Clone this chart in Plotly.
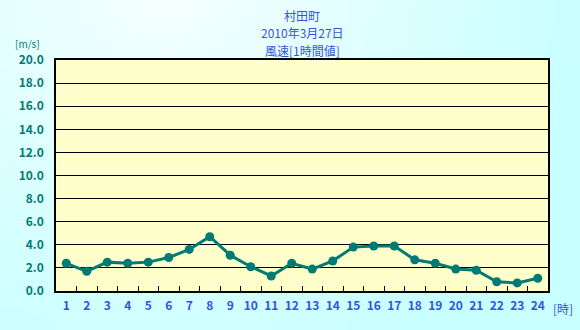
import base64
import math
import struct
import zlib

import plotly.graph_objects as go

hours = [str(h) for h in range(1, 25)]
wind = [2.4, 1.7, 2.5, 2.4, 2.5, 2.9, 3.6, 4.7, 3.1, 2.1, 1.3, 2.4,
        1.9, 2.6, 3.8, 3.9, 3.9, 2.7, 2.4, 1.9, 1.8, 0.8, 0.7, 1.1]
y_ticks = [i * 2.0 for i in range(11)]
y_ticktext = [f"{v:.1f}" for v in y_ticks]
title_lines = ["村田町", "2010年3月27日", "風速[1時間値]"]

FONT = "Noto Sans CJK JP"
TEAL = "#007b73"
BLUE = "#3355dd"

W, H = 580, 330
L, R, T, B = 56, 32, 60, 39


def gradient_png(w, h):
    rows = []
    for yy in range(h):
        row = bytearray([0])
        for xx in range(w):
            px, py = xx * 10, yy * 10
            d = math.hypot(px - 160, py + 30)
            t = min(1.0, d / 430.0)
            r = int(248 - t * (248 - 200))
            row += bytes([r, 255, 255])
        rows.append(bytes(row))
    raw = b"".join(rows)

    def chunk(tag, data):
        c = struct.pack(">I", len(data)) + tag + data
        return c + struct.pack(">I", zlib.crc32(tag + data) & 0xFFFFFFFF)

    png = b"\x89PNG\r\n\x1a\n"
    png += chunk(b"IHDR", struct.pack(">IIBBBBB", w, h, 8, 2, 0, 0, 0))
    png += chunk(b"IDAT", zlib.compress(raw, 9))
    png += chunk(b"IEND", b"")
    return "data:image/png;base64," + base64.b64encode(png).decode()


fig = go.Figure()
fig.add_trace(go.Scatter(
    x=hours, y=wind, mode="lines+markers",
    line=dict(color=TEAL, width=3),
    marker=dict(color=TEAL, size=9),
    hoverinfo="x+y", showlegend=False,
))

pw, ph = W - L - R, H - T - B
fig.add_layout_image(
    source=gradient_png(58, 33), xref="paper", yref="paper",
    x=-L / pw, y=1 + T / ph, sizex=W / pw, sizey=H / ph,
    sizing="stretch", xanchor="left", yanchor="top", layer="below",
)

fig.update_layout(
    width=W, height=H,
    margin=dict(l=L, r=R, t=T, b=B),
    paper_bgcolor="#d6fbfb",
    plot_bgcolor="#ffffcc",
    xaxis=dict(
        type="category", range=[-0.5, len(hours) - 0.5],
        tickson="boundaries", ticks="inside", ticklen=5,
        tickcolor="black", showgrid=False, showline=True, linecolor="black",
        linewidth=1.5, mirror=True, tickangle=0,
        tickfont=dict(family=FONT, size=12, color=BLUE, weight="bold"),
        ticklabelstandoff=3,
    ),
    yaxis=dict(
        range=[0, 20], tickvals=y_ticks, ticktext=y_ticktext,
        showgrid=True, gridcolor="black", gridwidth=1,
        showline=True, linecolor="black", linewidth=1.5, mirror=True,
        zeroline=False, ticks="",
        tickfont=dict(family=FONT, size=12, color=TEAL, weight="bold"),
        ticklabelstandoff=8,
    ),
    font=dict(family=FONT),
)

fig.add_shape(type="rect", xref="paper", yref="paper", x0=0, y0=0, x1=1, y1=1,
              fillcolor="#ffffcc", line=dict(width=0), layer="below")

for i, line in enumerate(title_lines):
    fig.add_annotation(
        text=line, xref="paper", yref="paper", x=0.5, y=1,
        yshift=45 - i * 17.5, xanchor="center", yanchor="middle",
        borderpad=0, showarrow=False,
        font=dict(family=FONT, size=12, color=BLUE),
    )

fig.add_annotation(text="[m/s]", xref="paper", yref="paper", x=0, y=1,
                   xshift=-29, yshift=17, xanchor="center", yanchor="middle",
                   borderpad=0, showarrow=False,
                   font=dict(family=FONT, size=10, color=TEAL))
fig.add_annotation(text="[時]", xref="paper", yref="paper", x=1, y=0,
                   xshift=15, yshift=-17, xanchor="center", yanchor="middle",
                   showarrow=False, font=dict(family=FONT, size=12, color=BLUE))

fig.write_html("out.html")
